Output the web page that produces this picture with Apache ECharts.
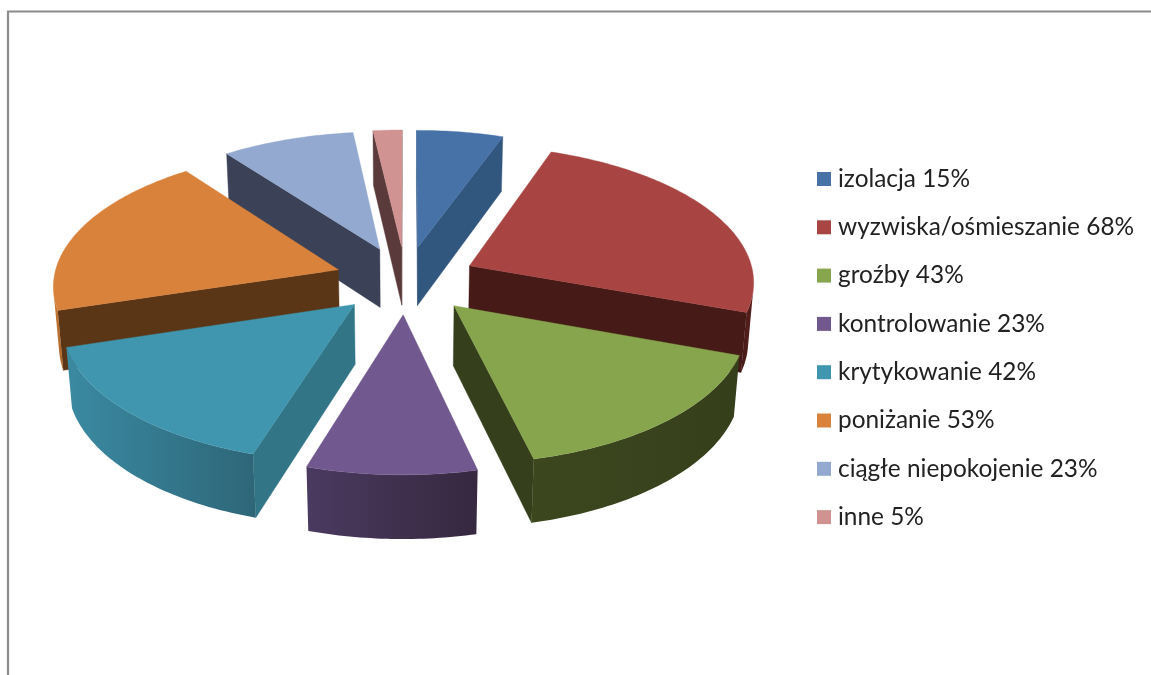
<!DOCTYPE html>
<html><head><meta charset="utf-8">
<style>html,body{margin:0;padding:0;background:#fff}#c{width:1151px;height:675px}</style>
<script src="https://cdn.jsdelivr.net/npm/echarts@6/dist/echarts.min.js"></script>
</head><body><div id="c"></div>
<script>
const categories = ['izolacja','wyzwiska/ośmieszanie','groźby','kontrolowanie','krytykowanie','poniżanie','ciągłe niepokojenie','inne'];
const values = [15,68,43,23,42,53,23,5];
const topColors = ['#4672a8','#a84442','#87a54d','#71588f','#3f96ae','#d9823b','#93a9cf','#d09392'];
const sideColors = ['#32577f','#451a17','#363f1b','#3f3050','#317587','#5a3616','#3b4257','#5a3a3a'];
const wallLeft = ['#32577f','#451a17','#3c471e','#4a3a60','#3a8aa2','#c97a35','#3b4257','#5a3a3a'];
const wallRight = ['#2c4e73','#5a201d','#363f1b','#36283f','#2e6678','#a8632a','#3b4257','#5a3a3a'];

// projection of the tilted, exploded pie
const view = {cx:405.7, R:285, explode:0.25, a:106.5, b:280, p:0.104, q:0.016, h:64.5};
function project(u, v, t){
  const s = 1/(1 - view.p*v + view.q*t);
  return [view.cx + u*view.R*s, (view.a*v + view.b + view.h*t)*s];
}
const total = values.reduce((x,y)=>x+y,0);
const labels = categories.map((c,i)=>c+' '+values[i]+'%');
let acc = 0;
const slices = values.map(val=>{
  const a0 = acc/total*Math.PI*2; acc += val;
  const a1 = acc/total*Math.PI*2;
  const mid = (a0+a1)/2;
  return {a0,a1,du:view.explode*Math.sin(mid),dv:-view.explode*Math.cos(mid)};
});
function area(q){
  let s=0; for(let i=0;i<q.length;i++){const A=q[i],B=q[(i+1)%q.length]; s+=A[0]*B[1]-B[0]*A[1];}
  return s/2;
}
const order = slices.map((s,i)=>({i,dv:s.dv})).sort((x,y)=>x.dv-y.dv);
const rank = []; order.forEach((o,r)=>rank[o.i]=r);

function renderSlice(i){
  const sl = slices[i];
  const P = (ang,rad,t)=>project(sl.du+rad*Math.sin(ang), sl.dv-rad*Math.cos(ang), t);
  const n = Math.max(8,Math.round((sl.a1-sl.a0)*60));
  const ang = []; for(let k=0;k<=n;k++) ang.push(sl.a0+(sl.a1-sl.a0)*k/n);
  const children = [];
  const poly = (points,fill)=>children.push({type:'polygon',shape:{points},style:{fill,stroke:fill,lineWidth:0.4},silent:true});
  // straight cut faces
  const faces = [[P(0,0,0),P(sl.a0,1,0),P(sl.a0,1,1),P(0,0,1)],[P(sl.a1,1,0),P(0,0,0),P(0,0,1),P(sl.a1,1,1)]];
  faces.forEach(f=>{ if(area(f)<0) poly(f,sideColors[i]); });
  // visible part of the curved wall
  let first=-1,last=-1;
  for(let k=0;k<n;k++){
    const quad=[P(ang[k],1,0),P(ang[k+1],1,0),P(ang[k+1],1,1),P(ang[k],1,1)];
    if(area(quad)<0){ if(first<0) first=k; last=k+1; }
  }
  if(first>=0){
    const pts=[];
    for(let k=first;k<=last;k++) pts.push(P(ang[k],1,0));
    for(let k=last;k>=first;k--) pts.push(P(ang[k],1,1));
    const fill=new echarts.graphic.LinearGradient(0,0,1,0,[{offset:0,color:wallLeft[i]},{offset:1,color:wallRight[i]}]);
    children.push({type:'polygon',shape:{points:pts},style:{fill},silent:true});
  }
  // top
  const top=[P(0,0,0)]; ang.forEach(a=>top.push(P(a,1,0)));
  poly(top,topColors[i]);
  return {type:'group',children};
}
const series = categories.map((c,i)=>({
  type:'custom', name:labels[i], coordinateSystem:'none', z:2+rank[i], silent:true, animation:false,
  itemStyle:{color:topColors[i]}, data:[[values[i]]],
  renderItem:()=>renderSlice(i)
}));
const chart = echarts.init(document.getElementById('c'),null,{renderer:'canvas'});
chart.setOption({
  backgroundColor:'#fff', animation:false, tooltip:{show:false},
  graphic:[{type:'polyline',shape:{points:[[8,675],[8,11.5],[1151,11.5]]},style:{stroke:'#8c8c8c',lineWidth:2.2,fill:null},silent:true}],
  legend:{orient:'vertical',left:817,top:167,selectedMode:false,icon:'rect',itemWidth:14,itemHeight:14,itemGap:24.3,
    data:labels,
    textStyle:{fontFamily:'Lato',fontSize:24.4,color:'#222',lineHeight:24,padding:[0,0,0,2]},padding:0},
  series
});
</script></body></html>
